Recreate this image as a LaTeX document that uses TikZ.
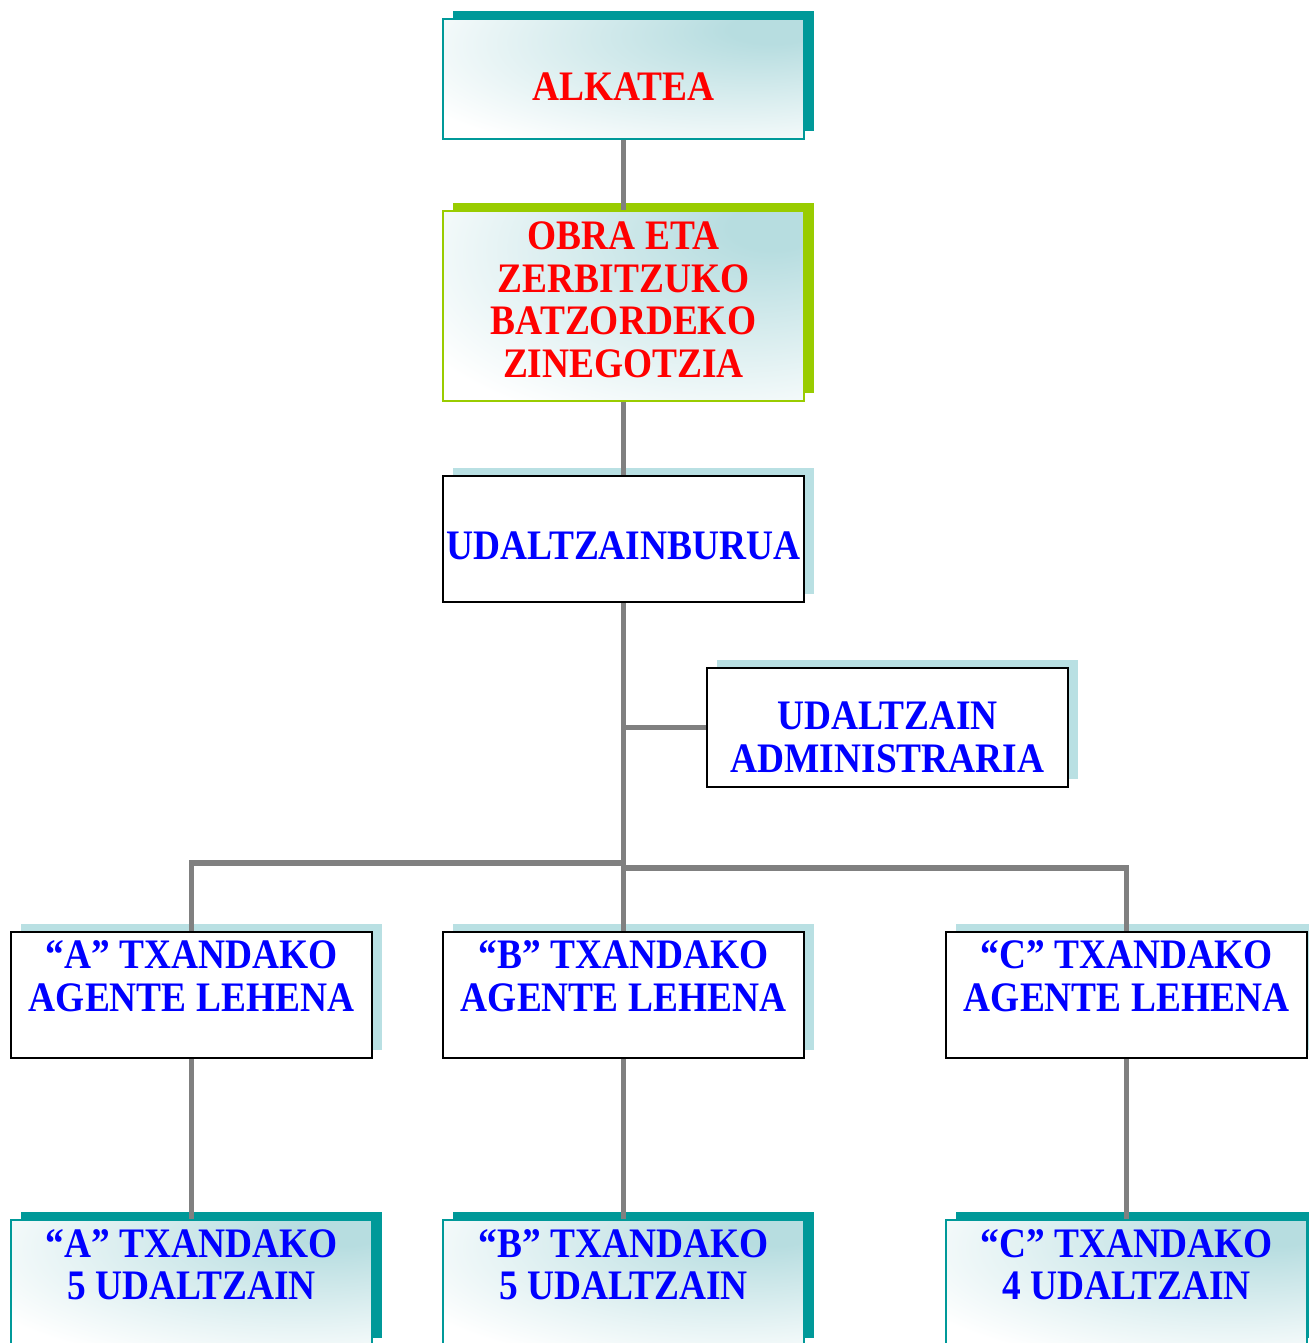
\documentclass[tikz,border=0pt]{standalone}
\usepackage{fontspec}
\setmainfont{Liberation Serif}[FakeStretch=0.89]
\usetikzlibrary{shadows,calc}
\definecolor{tealsh}{HTML}{009999}
\definecolor{limesh}{HTML}{99CC00}
\definecolor{palesh}{HTML}{B9E0E3}
\definecolor{paleblue}{HTML}{B7DDE0}
\definecolor{linegray}{HTML}{808080}

% light corner in the top right of the coloured boxes
\pgfdeclareradialshading{glow}{\pgfpoint{22bp}{22bp}}{color(0bp)=(paleblue);
  color(6bp)=(paleblue); color(46bp)=(white); color(100bp)=(white)}

\tikzset{
  box/.style={rectangle, minimum width=180.5pt, inner sep=0pt},
  every label/.style={align=center, inner sep=0pt,
    font=\fontsize{21}{21.25}\selectfont\bfseries},
  shadedbox/.style={box, draw=#1, line width=0.9pt, shade, shading=glow,
    general shadow={fill=#1, shadow xshift=5pt, shadow yshift=4pt}},
  plainbox/.style={box, draw=black, line width=1.2pt, fill=white,
    general shadow={fill=palesh, shadow xshift=5pt, shadow yshift=4pt}},
  conn/.style={draw=linegray, line width=2.6pt}
}

\begin{document}
\begin{tikzpicture}[x=0.5pt,y=-0.5pt]

      \useasboundingbox (0,0) rectangle (1308,1343);

      % top of the chart
      \node [shadedbox=tealsh, minimum height=60pt,
      label={[red, yshift=-4pt]center:ALKATEA}] (alkatea) at (623.5, 79) {};
      \node [shadedbox=limesh, minimum height=95pt,
      label={[red, yshift=3pt]center:OBRA ETA\\ZERBITZUKO\\BATZORDEKO\\ZINEGOTZIA}]
      (obra) at (623.5, 306) {};
      \node [plainbox, minimum height=63pt,
      label={[blue, yshift=-3.5pt]center:UDALTZAINBURUA}] (burua) at (623.5, 539) {};
      \node [plainbox, minimum height=59.5pt,
      label={[blue, yshift=-5pt]center:UDALTZAIN\\ADMINISTRARIA}]
      (admin) at (887.5, 727.5) {};

      % agente lehenak
      \node [plainbox, minimum height=63pt,
      label={[blue, yshift=9.5pt]center:“A” TXANDAKO\\AGENTE LEHENA}]
      (agA) at (191.5, 995) {};
      \node [plainbox, minimum height=63pt,
      label={[blue, yshift=9.5pt]center:“B” TXANDAKO\\AGENTE LEHENA}]
      (agB) at (623.5, 995) {};
      \node [plainbox, minimum height=63pt,
      label={[blue, yshift=9.5pt]center:“C” TXANDAKO\\AGENTE LEHENA}]
      (agC) at (1126.5, 995) {};

      % udaltzainak
      \node [shadedbox=tealsh, minimum height=63pt,
      label={[blue, yshift=9.25pt]center:“A” TXANDAKO\\5 UDALTZAIN}]
      (udA) at (191.5, 1283) {};
      \node [shadedbox=tealsh, minimum height=63pt,
      label={[blue, yshift=9.25pt]center:“B” TXANDAKO\\5 UDALTZAIN}]
      (udB) at (623.5, 1283) {};
      \node [shadedbox=tealsh, minimum height=63pt,
      label={[blue, yshift=9.25pt]center:“C” TXANDAKO\\4 UDALTZAIN}]
      (udC) at (1126.5, 1283) {};

      % lines
      \coordinate (jl) at (623, 863);
      \coordinate (jr) at (623, 868);
      \draw [conn] (alkatea) -- (obra);
      \draw [conn] (obra) -- (burua);
      \draw [conn] (burua.south) -- (agB.north);
      \draw [conn] (admin.west -| burua.south) -- (admin.west);
      \draw [conn] (agA.north) |- (jl);
      \draw [conn] (agC.north) |- (jr);
      \draw [conn] (agA) -- (udA);
      \draw [conn] (agB) -- (udB);
      \draw [conn] (agC) -- (udC);

    \end{tikzpicture}
\end{document}
